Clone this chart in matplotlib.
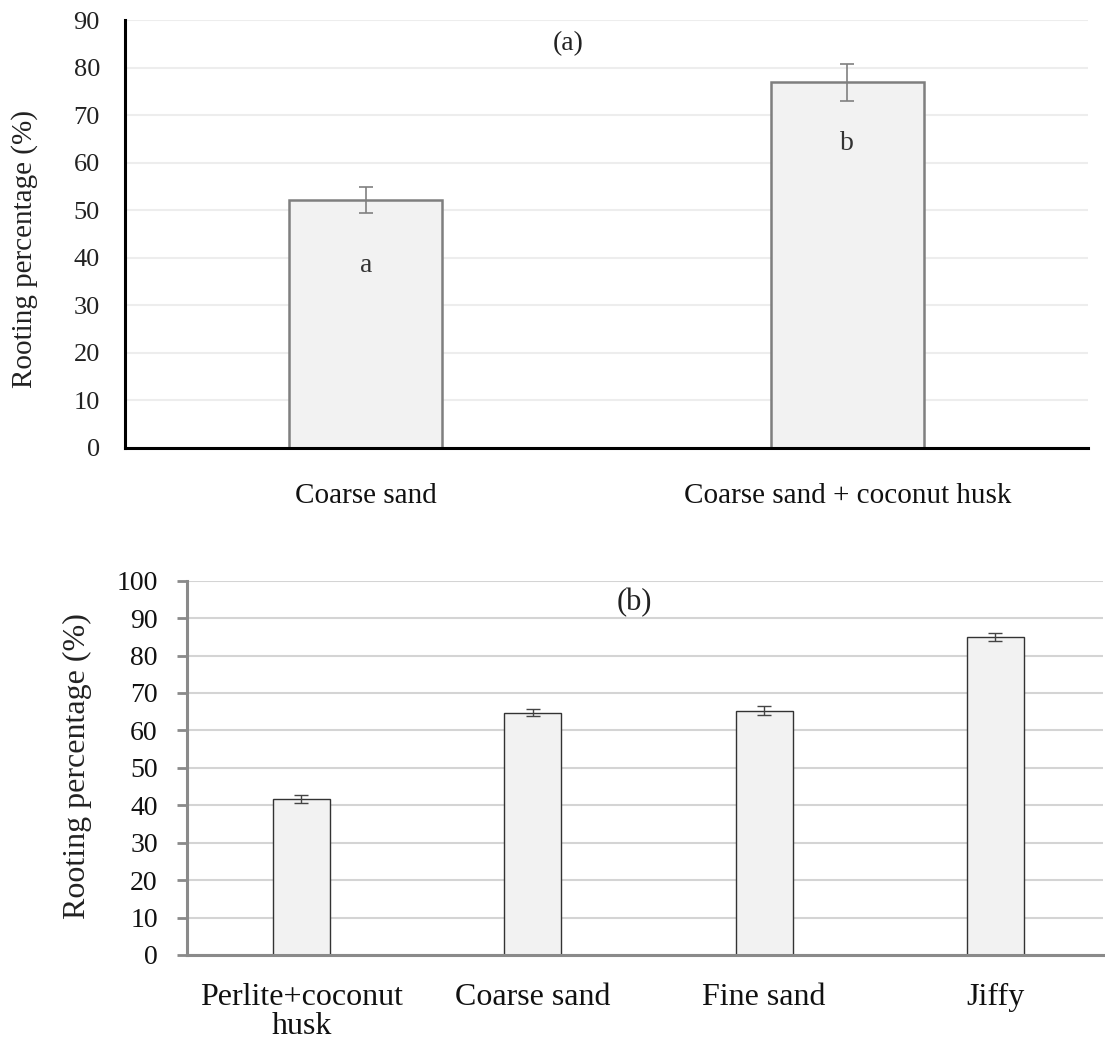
import numpy as np
import matplotlib.pyplot as plt

plt.rcParams['font.family'] = ['Liberation Serif', 'DejaVu Serif']

# panel (a)
media_a = ['Coarse sand', 'Coarse sand + coconut husk']
rooting_a = [52.2, 77.0]
err_a = [2.7, 3.9]
letters_a = ['a', 'b']
letter_y_a = [38.5, 64.0]

# panel (b)
media_b = ['Perlite+coconut\nhusk', 'Coarse sand', 'Fine sand', 'Jiffy']
rooting_b = [41.7, 64.7, 65.3, 85.0]
err_b = [1.0, 0.9, 1.1, 1.1]

fig = plt.figure(figsize=(11.05, 10.44), dpi=100)

# ---- top chart
ax1 = fig.add_axes([0.1131, 0.5709, 0.8715, 0.4096])
x = np.arange(len(media_a))
ax1.bar(x, rooting_a, 0.318, color='#f2f2f2', edgecolor='#7f7f7f', linewidth=1.8, zorder=2)
ax1.errorbar(x, rooting_a, yerr=err_a, fmt='none', ecolor='#808080', elinewidth=1.2,
             capsize=5, capthick=1.2, zorder=3)
for xi, let, ly in zip(x, letters_a, letter_y_a):
  ax1.text(xi, ly, let, ha='center', va='center', fontsize=20, color='#333333', zorder=4)
ax1.text(0.42, 85.2, '(a)', ha='center', va='center', fontsize=20, color='#222222')

ax1.set_xlim(-0.5, 1.5)
ax1.set_ylim(0, 90)
ax1.set_yticks(np.arange(0, 91, 10))
ax1.set_xticks(x, media_a)
ax1.grid(axis='y', color='#ededed', linewidth=1.5, zorder=0)
ax1.set_axisbelow(True)
for s in ['top', 'right']:
  ax1.spines[s].set_visible(False)
for s in ['left', 'bottom']:
  ax1.spines[s].set_color('black')
  ax1.spines[s].set_linewidth(2.2)
ax1.tick_params(axis='y', length=0, pad=18, labelsize=19, labelcolor='#222222')
ax1.tick_params(axis='x', length=0, pad=25, labelsize=21, labelcolor='#111111')
ax1.set_ylabel('Rooting percentage (%)', fontsize=21, color='#222222')
ax1.yaxis.set_label_coords(-0.09, 0.465)

# ---- bottom chart
ax2 = fig.add_axes([0.1692, 0.0853, 0.829, 0.3585])
x2 = np.arange(len(media_b))
ax2.bar(x2, rooting_b, 0.247, color='#f2f2f2', edgecolor='#333333', linewidth=1.0, zorder=2)
ax2.errorbar(x2, rooting_b, yerr=err_b, fmt='none', ecolor='#444444', elinewidth=1.0,
             capsize=5, capthick=1.0, zorder=3)
ax2.text(1.44, 94.1, '(b)', ha='center', va='center', fontsize=22, color='#222222')

ax2.set_xlim(-0.495, 3.465)
ax2.set_ylim(0, 100)
ax2.set_yticks(np.arange(0, 101, 10))
ax2.set_xticks(x2, media_b)
for lbl in ax2.get_xticklabels():
  lbl.set_linespacing(1.0)
ax2.grid(axis='y', color='#d4d4d4', linewidth=1.5, zorder=0)
ax2.set_axisbelow(True)
for s in ['top', 'right']:
  ax2.spines[s].set_visible(False)
for s in ['left', 'bottom']:
  ax2.spines[s].set_color('#8a8a8a')
  ax2.spines[s].set_linewidth(2.2)
ax2.tick_params(axis='y', length=7, width=2, color='#8a8a8a', pad=14, labelsize=20,
                labelcolor='#111111')
ax2.tick_params(axis='x', length=0, pad=20, labelsize=23, labelcolor='#111111')
ax2.set_ylabel('Rooting percentage (%)', fontsize=23, color='#222222')
ax2.yaxis.set_label_coords(-0.104, 0.505)

plt.savefig('out.png', dpi=100)
